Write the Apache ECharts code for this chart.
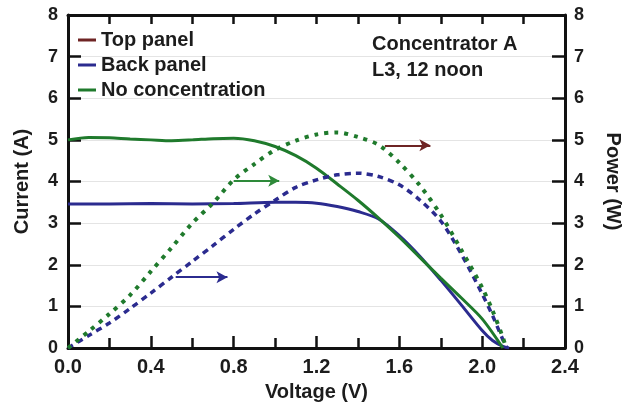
<!DOCTYPE html>
<html>
<head>
<meta charset="utf-8">
<script src="https://cdn.jsdelivr.net/npm/echarts@6/dist/echarts.min.js"></script>
<style>html,body{margin:0;padding:0;background:#fff;}#c{width:635px;height:404px;}</style>
</head>
<body>
<div id="c"></div>
<script>
// Current curves (left axis)
const noConcV = [0, 0.1, 0.2, 0.3, 0.4, 0.5, 0.6, 0.7, 0.8, 0.9, 1.0, 1.1, 1.2, 1.3, 1.4, 1.5, 1.6, 1.7, 1.8, 1.9, 2.0, 2.1];
const noConcI = [5.00, 5.06, 5.05, 5.02, 5.00, 4.98, 5.00, 5.03, 5.04, 4.98, 4.84, 4.62, 4.32, 3.94, 3.55, 3.12, 2.66, 2.17, 1.68, 1.20, 0.70, 0.0];
const backV = [0, 0.2, 0.4, 0.6, 0.8, 1.0, 1.1, 1.2, 1.3, 1.4, 1.5, 1.6, 1.7, 1.8, 1.9, 2.0, 2.05, 2.1, 2.13];
const backI = [3.46, 3.46, 3.47, 3.46, 3.47, 3.50, 3.50, 3.48, 3.40, 3.28, 3.10, 2.70, 2.20, 1.63, 1.03, 0.42, 0.18, 0.04, 0.0];
// Power curves (right axis)
const noConcPV = [0, 0.1, 0.2, 0.3, 0.4, 0.5, 0.6, 0.7, 0.8, 0.9, 1.0, 1.1, 1.2, 1.3, 1.4, 1.5, 1.6, 1.7, 1.8, 1.9, 2.0, 2.05, 2.1, 2.115];
const noConcP = [0, 0.40, 0.82, 1.27, 1.84, 2.41, 3.00, 3.48, 4.04, 4.42, 4.76, 4.98, 5.13, 5.18, 5.07, 4.88, 4.45, 3.90, 3.20, 2.35, 1.45, 0.90, 0.25, 0];
const backPV = [0, 0.1, 0.2, 0.3, 0.4, 0.5, 0.6, 0.7, 0.8, 0.9, 1.0, 1.1, 1.2, 1.3, 1.4, 1.5, 1.6, 1.7, 1.8, 1.9, 2.0, 2.05, 2.1, 2.12];
const backP = [0, 0.30, 0.60, 0.95, 1.32, 1.70, 2.08, 2.46, 2.85, 3.22, 3.55, 3.86, 4.04, 4.16, 4.20, 4.12, 3.92, 3.55, 3.05, 2.25, 1.30, 0.78, 0.20, 0];
// Arrows [x0, x1, y] in data units
const arrowTop = [1.53, 1.75, 4.87];
const arrowGreen = [0.80, 1.02, 4.02];
const arrowBlue = [0.52, 0.77, 1.70];
// Axis ticks
const xTicks = [0, 0.4, 0.8, 1.2, 1.6, 2.0, 2.4];
const yTicks = [0, 1, 2, 3, 4, 5, 6, 7, 8];
const legendNames = ['Top panel', 'Back panel', 'No concentration'];
const noteLines = ['Concentrator A', 'L3, 12 noon'];

const C_TOP = '#6e2424', C_BACK = '#2b2b8f', C_NO = '#1f7a2c', TXT = '#1c1c1c';
const FONT = '"Liberation Sans", Arial, sans-serif';
const zip = (a, b) => a.map((v, i) => [v, b[i]]);
const arrow = (a, color) => [{ coord: [a[0], a[2]], lineStyle: { color: color, width: 2, type: 'solid' } }, { coord: [a[1], a[2]] }];

const axisLineStyle = { color: '#111', width: 3 };
const tickStyle = { color: '#111', width: 2.5 };
const nameStyle = { fontFamily: FONT, fontWeight: 'bold', fontSize: 20, color: TXT };
const chart = echarts.init(document.getElementById('c'), null, { renderer: 'canvas' });
chart.setOption({
  animation: false,
  backgroundColor: '#fff',
  grid: { left: 68, right: 70, top: 15, bottom: 56, containLabel: false, outerBoundsMode: 'none' },
  legend: {
    data: legendNames,
    orient: 'vertical', left: 73, top: 25, itemGap: 5,
    icon: 'rect', itemWidth: 18, itemHeight: 3,
    textStyle: { fontFamily: FONT, fontWeight: 'bold', fontSize: 20, color: TXT },
    selectedMode: false
  },
  graphic: [{
    type: 'text', left: 372, top: 31,
    style: { text: noteLines.join('\n'), font: 'bold 20px ' + FONT, fill: TXT, lineHeight: 26 }
  }],
  xAxis: [{
    type: 'value', min: xTicks[0], max: xTicks[xTicks.length - 1], interval: 0.4,
    name: 'Voltage (V)', nameLocation: 'middle', nameGap: 34, nameTextStyle: nameStyle,
    axisLine: { onZero: false, lineStyle: axisLineStyle },
    axisTick: { inside: true, length: 12, lineStyle: tickStyle },
    minorTick: { show: true, splitNumber: 2, length: 10, lineStyle: tickStyle },
    axisLabel: { margin: 9, fontFamily: FONT, fontWeight: 'bold', fontSize: 20, color: TXT, formatter: v => v.toFixed(1) },
    splitLine: { show: false }
  }, {
    type: 'value', position: 'top', min: xTicks[0], max: xTicks[xTicks.length - 1], interval: 0.4,
    axisLine: { onZero: false, lineStyle: axisLineStyle },
    axisTick: { inside: true, length: 9, lineStyle: tickStyle },
    minorTick: { show: true, splitNumber: 2, length: 9, lineStyle: tickStyle },
    axisLabel: { show: false }, splitLine: { show: false }
  }],
  yAxis: [{
    type: 'value', position: 'left', min: yTicks[0], max: yTicks[yTicks.length - 1], interval: 1,
    name: 'Current (A)', nameLocation: 'middle', nameGap: 36, nameRotate: 90, nameTextStyle: nameStyle,
    axisLine: { show: true, onZero: false, lineStyle: axisLineStyle },
    axisTick: { show: true, inside: true, length: 13, lineStyle: tickStyle },
    axisLabel: { margin: 10, fontFamily: FONT, fontWeight: 'bold', fontSize: 18, color: TXT },
    splitLine: { show: true, lineStyle: { color: '#e4e4e4', width: 1 } }
  }, {
    type: 'value', position: 'right', min: yTicks[0], max: yTicks[yTicks.length - 1], interval: 1,
    name: 'Power (W)', nameLocation: 'middle', nameGap: 38, nameRotate: -90, nameTextStyle: nameStyle,
    axisLine: { show: true, onZero: false, lineStyle: axisLineStyle },
    axisTick: { show: true, inside: true, length: 13, lineStyle: tickStyle },
    axisLabel: { margin: 9, fontFamily: FONT, fontWeight: 'bold', fontSize: 18, color: TXT },
    splitLine: { show: false }
  }],
  series: [
    { name: 'Top panel', type: 'line', data: [], color: C_TOP, showSymbol: false },
    { name: 'Back panel', type: 'line', data: zip(backV, backI), color: C_BACK, smooth: 0.3, showSymbol: false,
      lineStyle: { width: 3, color: C_BACK } },
    { name: 'No concentration', type: 'line', data: zip(noConcV, noConcI), color: C_NO, smooth: 0.3, showSymbol: false,
      lineStyle: { width: 3, color: C_NO } },
    { name: 'Back panel', type: 'line', yAxisIndex: 1, data: zip(backPV, backP), color: C_BACK, smooth: 0.3, showSymbol: false,
      lineStyle: { width: 3.5, color: C_BACK, type: [6, 5] } },
    { name: 'No concentration', type: 'line', yAxisIndex: 1, data: zip(noConcPV, noConcP), color: C_NO, smooth: 0.3, showSymbol: false,
      lineStyle: { width: 4, color: C_NO, type: [4, 6] },
      markLine: {
        silent: true, symbol: ['none', 'arrow'], symbolSize: [9, 11], label: { show: false },
        data: [arrow(arrowTop, C_TOP), arrow(arrowGreen, '#2e8a3a'), arrow(arrowBlue, C_BACK)]
      } }
  ]
});
</script>
</body>
</html>
